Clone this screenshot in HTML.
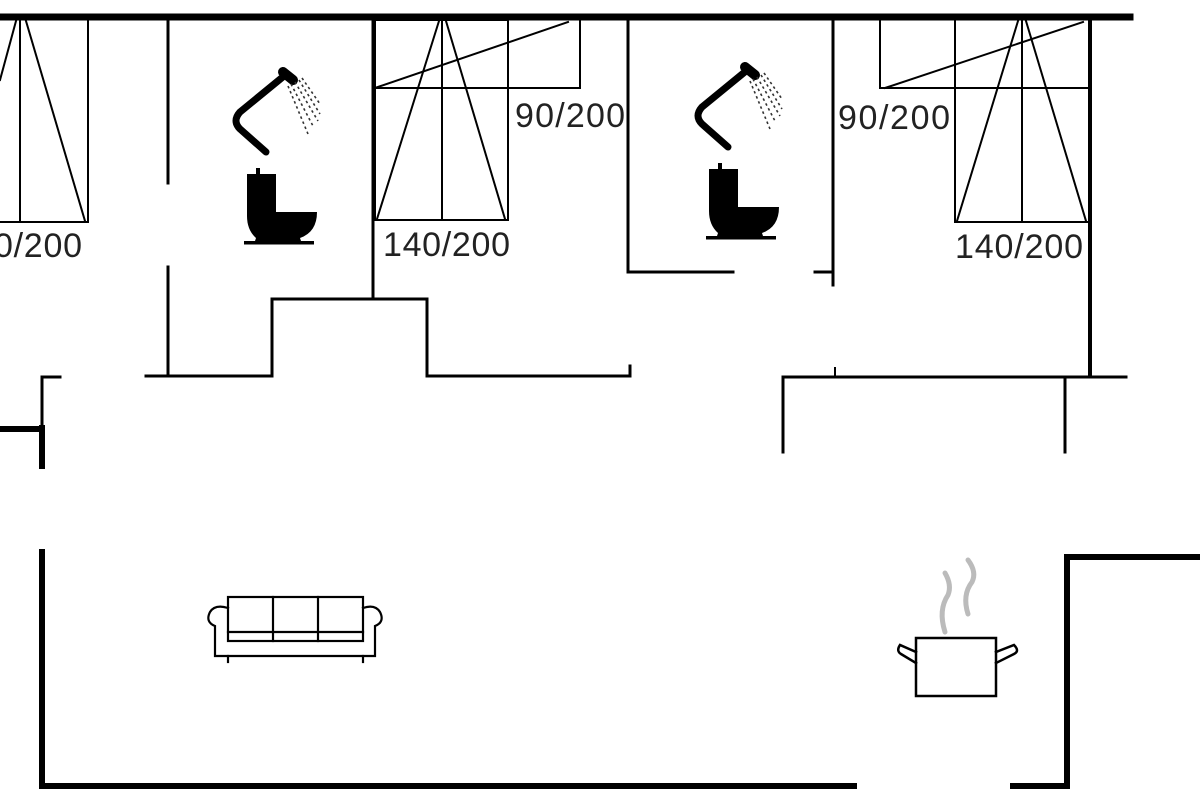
<!DOCTYPE html>
<html><head><meta charset="utf-8"><style>
html,body{margin:0;padding:0;background:#fff;}
svg{display:block;}
text{font-family:"Liberation Sans",sans-serif;font-size:34px;fill:#222;}
</style></head><body>
<svg width="1200" height="800" viewBox="0 0 1200 800" xmlns="http://www.w3.org/2000/svg">
<defs>
<g id="bath">
  <path d="M266,152 L240,129 Q232,121 240,112 L284,76" fill="none" stroke="#000" stroke-width="7" stroke-linecap="round"/>
  <path d="M283,72 L293,80" stroke="#000" stroke-width="10" stroke-linecap="round"/>
  <g stroke="#333" stroke-width="1.6" stroke-dasharray="2.5,3">
    <line x1="291" y1="84" x2="313" y2="126"/>
    <line x1="295" y1="82" x2="318" y2="121"/>
    <line x1="299" y1="80" x2="320" y2="114"/>
    <line x1="302" y1="78" x2="320" y2="104"/>
    <line x1="288" y1="86" x2="308" y2="134"/>
  </g>
  <rect x="256" y="168" width="4" height="8" fill="#000"/>
  <path d="M247,174 L276,174 L276,212 L317,212 Q317,232 300,238 L302,244 L254,244 L256,238 Q247,230 247,216 Z" fill="#000"/>
  <rect x="244" y="241" width="70" height="3.5" fill="#000"/>
</g>
</defs>
<g stroke="#000" fill="none" stroke-linecap="square">
  <line x1="0" y1="17" x2="1130" y2="17" stroke-width="7"/>
  <g stroke-width="2">
    <line x1="20" y1="20" x2="20" y2="222"/>
    <line x1="88" y1="20" x2="88" y2="222"/>
    <line x1="0" y1="222" x2="88" y2="222"/>
    <line x1="26" y1="21" x2="85" y2="221"/>
    <line x1="16" y1="21" x2="0" y2="80"/>
  </g>
  <line x1="168" y1="20" x2="168" y2="183" stroke-width="3"/>
  <line x1="168" y1="267" x2="168" y2="376" stroke-width="3"/>
  <line x1="373" y1="20" x2="373" y2="298" stroke-width="3"/>
  <path d="M146,376 H272 V299 H427 V376 H630 V366" stroke-width="3"/>
  <g stroke-width="2">
    <rect x="375" y="20" width="133" height="200"/>
    <line x1="442" y1="20" x2="442" y2="220"/>
    <line x1="439" y1="21" x2="377" y2="219"/>
    <line x1="446" y1="21" x2="505" y2="219"/>
    <path d="M375,88 H580 V20"/>
    <line x1="375" y1="88" x2="568" y2="22"/>
  </g>
  <line x1="628" y1="20" x2="628" y2="272" stroke-width="3"/>
  <line x1="628" y1="272" x2="733" y2="272" stroke-width="3"/>
  <path d="M815,272 H833" stroke-width="3"/>
  <line x1="833" y1="20" x2="833" y2="285" stroke-width="3"/>
  <g stroke-width="2">
    <path d="M880,20 V88 H1088"/>
    <line x1="955" y1="20" x2="955" y2="222"/>
    <line x1="955" y1="222" x2="1088" y2="222"/>
    <line x1="1022" y1="20" x2="1022" y2="222"/>
    <line x1="1018" y1="21" x2="957" y2="221"/>
    <line x1="1026" y1="21" x2="1086" y2="221"/>
    <line x1="885" y1="88" x2="1083" y2="22"/>
  </g>
  <line x1="1090" y1="20" x2="1090" y2="376" stroke-width="4"/>
  <path d="M783,452 V377 H1126" stroke-width="3"/>
  <line x1="1065" y1="377" x2="1065" y2="452" stroke-width="3"/>
  <line x1="835" y1="368" x2="835" y2="376" stroke-width="2"/>
  <path d="M60,377 H42 V428" stroke-width="3"/>
  <line x1="0" y1="429" x2="42" y2="429" stroke-width="6"/>
  <line x1="42" y1="428" x2="42" y2="466" stroke-width="6"/>
  <path d="M42,552 V786 H854" stroke-width="6"/>
  <path d="M1013,786 H1067 V557 H1200" stroke-width="6"/>
  <g stroke-width="2.2">
    <rect x="228" y="597" width="135" height="44"/>
    <line x1="228" y1="632" x2="363" y2="632"/>
    <line x1="273" y1="597" x2="273" y2="641"/>
    <line x1="318" y1="597" x2="318" y2="641"/>
    <path d="M228,608 Q215,604 210,612 Q205,622 215,626 V656 H375 V626 Q385,622 380,612 Q375,604 363,608"/>
    <line x1="228" y1="656" x2="228" y2="662"/>
    <line x1="363" y1="656" x2="363" y2="662"/>
  </g>
  <g stroke-width="2.5">
    <rect x="916" y="638" width="80" height="58"/>
    <path d="M916,652 L900,645 Q896,651 901,654 L916,663"/>
    <path d="M996,652 L1014,645 Q1020,651 1014,654 L996,663"/>
  </g>
  <path d="M945,632 Q938,610 948,595 Q952,585 945,573" stroke="#bbb" stroke-width="5" stroke-linecap="round"/>
  <path d="M968,614 Q962,595 972,582 Q977,572 968,560" stroke="#bbb" stroke-width="5" stroke-linecap="round"/>
</g>
<use href="#bath"/>
<use href="#bath" transform="translate(462,-5)"/>
<text x="-6" y="257" textLength="88">0/200</text>
<text x="383" y="256" textLength="127">140/200</text>
<text x="515" y="127" textLength="110">90/200</text>
<text x="838" y="129" textLength="112">90/200</text>
<text x="955" y="258" textLength="128">140/200</text>
</svg>
</body></html>
